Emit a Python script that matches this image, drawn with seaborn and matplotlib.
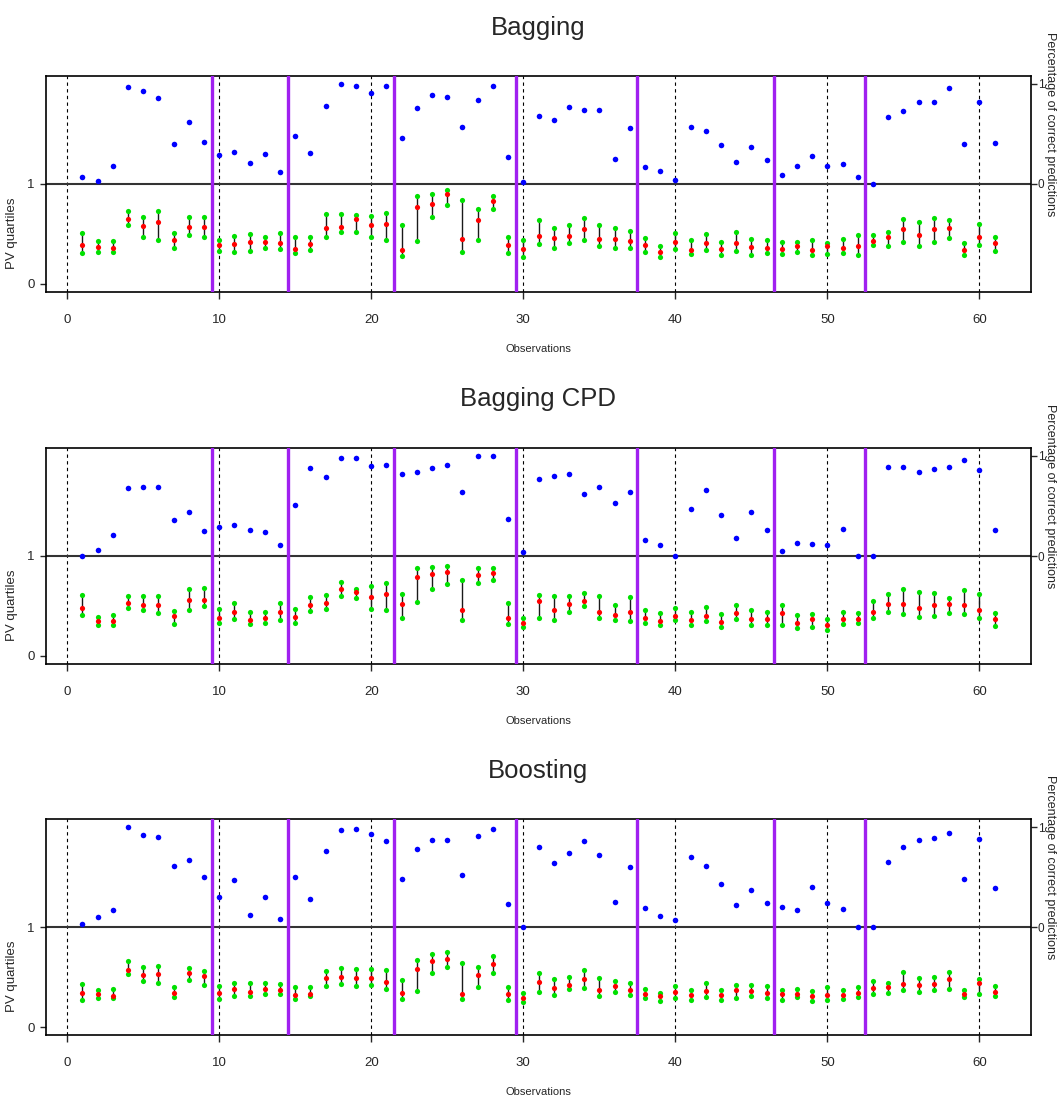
import matplotlib
matplotlib.use("Agg")
import matplotlib.pyplot as plt
import numpy as np
import pandas as pd
import seaborn as sns

# ---- data -------------------------------------------------------------
obs = list(range(1, 62))
segment_breaks = [9.5, 14.5, 21.5, 29.5, 37.5, 46.5, 52.5]
x_ticks = [0, 10, 20, 30, 40, 50, 60]
titles = ["Bagging", "Bagging CPD", "Boosting"]

bag_correct = [0.07, 0.03, 0.18, 0.97, 0.93, 0.86, 0.40, 0.62, 0.42, 0.29,
               0.32, 0.21, 0.30, 0.12, 0.48, 0.31, 0.78, 1.00, 0.98, 0.91,
               0.98, 0.46, 0.76, 0.89, 0.87, 0.57, 0.84, 0.98, 0.27, 0.02,
               0.68, 0.64, 0.77, 0.74, 0.74, 0.25, 0.56, 0.17, 0.13, 0.04,
               0.57, 0.53, 0.39, 0.22, 0.37, 0.24, 0.09, 0.18, 0.28, 0.18,
               0.20, 0.07, 0.00, 0.67, 0.73, 0.82, 0.82, 0.96, 0.40, 0.82, 0.41]
bag_q3 = [.51, .43, .43, .73, .67, .73, .51, .67, .67, .44,
          .48, .50, .47, .51, .47, .47, .70, .70, .69, .68,
          .71, .59, .88, .90, .94, .84, .75, .88, .47, .44,
          .64, .56, .59, .66, .59, .56, .53, .46, .38, .51,
          .44, .50, .42, .52, .45, .44, .42, .42, .44, .41,
          .45, .49, .49, .52, .65, .62, .66, .64, .41, .60, .47]
bag_med = [.39, .37, .36, .65, .58, .62, .44, .57, .57, .39,
           .40, .42, .42, .41, .35, .40, .56, .57, .65, .59,
           .60, .34, .77, .80, .90, .45, .64, .83, .39, .35,
           .48, .46, .48, .55, .45, .45, .43, .39, .32, .42,
           .34, .41, .35, .41, .37, .36, .35, .38, .34, .38,
           .36, .38, .43, .47, .55, .49, .55, .56, .34, .47, .41]
bag_q1 = [.31, .32, .32, .59, .47, .44, .36, .49, .47, .33,
          .32, .33, .36, .35, .31, .34, .47, .52, .52, .47,
          .44, .28, .43, .67, .79, .32, .44, .75, .31, .27,
          .40, .36, .41, .44, .38, .36, .36, .32, .27, .35,
          .30, .34, .29, .33, .29, .31, .30, .32, .29, .30,
          .31, .29, .39, .38, .42, .38, .42, .46, .29, .39, .33]

cpd_correct = [0.00, 0.06, 0.21, 0.68, 0.69, 0.69, 0.36, 0.44, 0.25, 0.29,
               0.31, 0.26, 0.24, 0.11, 0.51, 0.88, 0.79, 0.98, 0.98, 0.90,
               0.91, 0.82, 0.84, 0.88, 0.91, 0.64, 1.00, 1.00, 0.37, 0.04,
               0.77, 0.80, 0.82, 0.62, 0.69, 0.53, 0.64, 0.16, 0.11, 0.00,
               0.47, 0.66, 0.41, 0.18, 0.44, 0.26, 0.05, 0.13, 0.12, 0.11,
               0.27, 0.00, 0.00, 0.89, 0.89, 0.84, 0.87, 0.89, 0.96, 0.86, 0.26]
cpd_q3 = [.61, .39, .41, .60, .60, .60, .45, .67, .68, .47,
          .53, .44, .44, .53, .47, .59, .61, .74, .67, .70,
          .73, .62, .88, .89, .90, .76, .88, .88, .53, .38,
          .61, .60, .60, .63, .60, .51, .59, .46, .43, .48,
          .44, .49, .42, .51, .46, .44, .51, .41, .42, .37,
          .44, .43, .55, .62, .67, .64, .63, .58, .66, .62, .43]
cpd_med = [.48, .35, .35, .53, .51, .51, .40, .56, .56, .38,
           .44, .36, .38, .44, .39, .51, .53, .67, .64, .59,
           .62, .52, .79, .82, .84, .46, .81, .83, .38, .33,
           .55, .46, .52, .55, .44, .41, .44, .38, .35, .40,
           .36, .40, .34, .43, .37, .37, .43, .33, .37, .31,
           .37, .37, .44, .52, .52, .48, .51, .52, .51, .46, .37]
cpd_q1 = [.41, .31, .31, .48, .46, .43, .32, .46, .50, .33,
          .37, .32, .33, .36, .33, .45, .47, .60, .58, .47,
          .46, .38, .54, .67, .72, .36, .73, .76, .32, .29,
          .38, .36, .44, .50, .38, .36, .35, .33, .31, .36,
          .31, .35, .29, .37, .31, .31, .31, .28, .29, .26,
          .32, .33, .38, .44, .42, .39, .40, .43, .42, .38, .30]

boost_correct = [0.03, 0.10, 0.17, 1.00, 0.92, 0.90, 0.61, 0.67, 0.50, 0.30,
                 0.47, 0.12, 0.30, 0.08, 0.50, 0.28, 0.76, 0.97, 0.98, 0.93,
                 0.86, 0.48, 0.78, 0.87, 0.87, 0.52, 0.91, 0.98, 0.23, 0.00,
                 0.80, 0.64, 0.74, 0.86, 0.72, 0.25, 0.60, 0.19, 0.11, 0.07,
                 0.70, 0.61, 0.43, 0.22, 0.37, 0.24, 0.20, 0.17, 0.40, 0.24,
                 0.18, 0.00, 0.00, 0.65, 0.80, 0.87, 0.89, 0.94, 0.48, 0.88, 0.39]
boost_q3 = [.43, .37, .38, .66, .60, .61, .40, .59, .56, .41,
            .44, .44, .44, .43, .40, .40, .56, .59, .58, .58,
            .57, .47, .67, .73, .75, .64, .60, .71, .40, .34,
            .54, .48, .50, .57, .49, .46, .44, .38, .34, .41,
            .37, .44, .37, .42, .42, .41, .37, .38, .36, .40,
            .37, .40, .46, .44, .55, .49, .50, .55, .37, .48, .41]
boost_med = [.34, .33, .31, .57, .52, .53, .34, .54, .51, .34,
             .38, .35, .38, .37, .32, .33, .49, .50, .49, .49,
             .45, .34, .58, .66, .68, .33, .52, .63, .33, .29,
             .45, .39, .42, .48, .37, .41, .37, .33, .31, .35,
             .32, .36, .32, .37, .36, .34, .33, .33, .31, .32,
             .32, .34, .39, .40, .43, .42, .43, .48, .33, .44, .35]
boost_q1 = [.27, .29, .29, .53, .46, .44, .30, .47, .42, .28,
            .31, .31, .33, .33, .28, .31, .41, .43, .41, .42,
            .38, .28, .36, .54, .60, .28, .40, .54, .27, .25,
            .35, .32, .38, .39, .31, .35, .32, .29, .26, .29,
            .27, .30, .27, .29, .31, .29, .27, .30, .26, .27,
            .28, .30, .33, .34, .37, .35, .37, .38, .30, .33, .31]

panels = [
    (titles[0], bag_correct, bag_q1, bag_med, bag_q3),
    (titles[1], cpd_correct, cpd_q1, cpd_med, cpd_q3),
    (titles[2], boost_correct, boost_q1, boost_med, boost_q3),
]

# ---- style ------------------------------------------------------------
sns.set_style("white")
plt.rcParams["font.family"] = ["Liberation Sans", "DejaVu Sans"]
plt.rcParams["axes.edgecolor"] = "black"
plt.rcParams["axes.linewidth"] = 1.2

W, H = 1057, 1102
fig = plt.figure(figsize=(W / 100, H / 100), dpi=100)

# axes boxes in pixels: (left, top, width, height)
boxes = [(46, 76, 985, 216), (46, 448, 985, 216), (46, 819, 985, 216)]
title_y = [28, 399, 771]

for (title, correct, q1, med, q3), (lx, ty, w, h), tyt in zip(panels, boxes, title_y):
    ax = fig.add_axes([lx / W, 1 - (ty + h) / H, w / W, h / H])
    df = pd.DataFrame({"obs": obs, "correct": np.array(correct) + 1.0,
                       "q1": q1, "med": med, "q3": q3})

    ax.set_xlim(-1.4, 63.4)
    ax.set_ylim(-0.08, 2.08)

    for xv in x_ticks:
        ax.axvline(xv, color="black", lw=0.8, ls=(0, (3, 3)), zorder=1)
    ax.axhline(1.0, color="#333333", lw=1.5, zorder=1)

    ax.vlines(df["obs"], df["q1"], df["q3"], color="#1a1a1a", lw=1.0, zorder=2)
    sns.scatterplot(data=df, x="obs", y="q1", color="#00e000", s=14,
                    linewidth=0, ax=ax, zorder=3)
    sns.scatterplot(data=df, x="obs", y="q3", color="#00e000", s=14,
                    linewidth=0, ax=ax, zorder=3)
    sns.scatterplot(data=df, x="obs", y="med", color="#ff0000", s=14,
                    linewidth=0, ax=ax, zorder=4)
    sns.scatterplot(data=df, x="obs", y="correct", color="#0000ff", s=16,
                    linewidth=0, ax=ax, zorder=4)

    for xb in segment_breaks:
        ax.axvline(xb, color="#a020f0", lw=2.4, zorder=5)

    ax.set_xticks(x_ticks)
    ax.set_yticks([0, 1])
    ax.set_yticklabels(["0", "1"])
    ax.tick_params(axis="x", direction="out", length=5, width=1, pad=11,
                   labelsize=9.5, bottom=True)
    ax.tick_params(axis="y", direction="out", length=4, width=1, pad=4,
                   labelsize=9.5, left=True)
    ax.set_xlabel("Observations", fontsize=8, labelpad=13)
    ax.set_ylabel("PV quartiles", fontsize=9.5)
    ax.yaxis.set_label_coords(-0.028, 0.27)

    sec = ax.secondary_yaxis("right", functions=(lambda y: y - 1, lambda p: p + 1))
    sec.set_yticks([0, 1])
    sec.set_yticklabels(["0", "1"])
    sec.tick_params(direction="out", length=4, width=1, pad=1, labelsize=8.5)
    sec.spines["right"].set_visible(False)

    ax.text(64.62, 1.6, "Percentage of correct predictions", rotation=270,
            ha="center", va="center", fontsize=9, clip_on=False)

    fig.text(0.509, 1 - tyt / H, title, ha="center", va="center", fontsize=18.5)

fig.savefig("out.png", dpi=100)
